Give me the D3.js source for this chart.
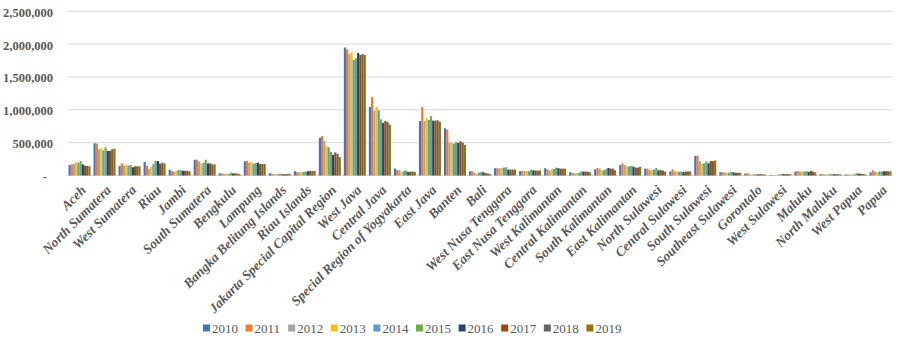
<!DOCTYPE html>
<html><head><meta charset="utf-8">
<script src="https://cdn.jsdelivr.net/npm/d3@7"></script>
<style>
html,body{margin:0;padding:0;background:#fff;}
svg{display:block;}
</style></head>
<body>
<svg id="chart" width="908" height="340"></svg>
<script>
const provinces = ["Aceh","North Sumatera","West Sumatera","Riau","Jambi","South Sumatera","Bengkulu","Lampung","Bangka Belitung Islands","Riau Islands","Jakarta Special Capital Region","West Java","Central Java","Special Region of Yogyakarta","East Java","Banten","Bali","West Nusa Tenggara","East Nusa Tenggara","West Kalimantan","Central Kalimantan","South Kalimantan","East Kalimantan","North Sulawesi","Central Sulawesi","South Sulawesi","Southeast Sulawesi","Gorontalo","West Sulawesi","Maluku","North Maluku","West Papua","Papua"];
const years = ["2010","2011","2012","2013","2014","2015","2016","2017","2018","2019"];
const v2010 = [160000,490000,145000,205000,85000,240000,35000,215000,35000,65000,575000,1950000,1045000,105000,830000,720000,65000,110000,68000,110000,50000,95000,160000,105000,60000,300000,52000,30000,8000,60000,20000,15000,48000];
const v2011 = [170000,485000,185000,150000,72000,240000,28000,225000,25000,50000,600000,1920000,1195000,82000,1045000,700000,65000,110000,68000,95000,40000,115000,185000,105000,95000,300000,52000,35000,8000,68000,20000,15000,80000];
const v2012 = [180000,395000,150000,100000,55000,215000,30000,195000,20000,50000,525000,1850000,985000,82000,830000,505000,45000,110000,68000,80000,35000,105000,160000,85000,65000,220000,42000,18000,10000,60000,18000,15000,60000];
const v2013 = [205000,415000,160000,135000,72000,180000,28000,205000,20000,50000,445000,1875000,1045000,52000,880000,495000,32000,115000,70000,95000,35000,80000,140000,80000,60000,180000,42000,15000,12000,65000,18000,15000,50000];
const v2014 = [195000,385000,150000,175000,85000,195000,22000,180000,25000,55000,430000,1760000,990000,68000,845000,485000,45000,120000,68000,100000,40000,80000,140000,90000,55000,185000,47000,18000,15000,60000,20000,18000,62000];
const v2015 = [220000,430000,160000,220000,78000,240000,45000,190000,28000,60000,360000,1785000,855000,78000,905000,510000,50000,125000,90000,120000,60000,100000,148000,115000,62000,215000,56000,20000,25000,70000,22000,35000,60000];
const v2016 = [170000,375000,125000,220000,72000,185000,32000,195000,18000,65000,315000,1865000,800000,55000,835000,495000,50000,90000,78000,110000,60000,115000,135000,78000,52000,185000,47000,18000,22000,55000,20000,30000,65000];
const v2017 = [150000,375000,140000,180000,72000,185000,32000,175000,22000,70000,350000,1835000,830000,58000,835000,520000,38000,90000,78000,105000,60000,105000,120000,85000,60000,220000,42000,20000,20000,70000,20000,25000,65000];
const v2018 = [145000,400000,140000,195000,72000,170000,30000,175000,25000,70000,330000,1850000,815000,60000,840000,500000,32000,90000,72000,105000,58000,105000,120000,75000,62000,220000,42000,18000,22000,60000,18000,22000,65000];
const v2019 = [140000,410000,140000,185000,65000,170000,22000,175000,25000,70000,280000,1835000,775000,55000,820000,465000,22000,90000,78000,105000,48000,80000,130000,60000,62000,230000,42000,15000,20000,50000,18000,18000,65000];
const yTicks = [0,500000,1000000,1500000,2000000,2500000];
const colors = ["#4472C4","#ED7D31","#A5A5A5","#FFC000","#5B9BD5","#70AD47","#264478","#9E480E","#636363","#997300"];

const seriesValues = [v2010,v2011,v2012,v2013,v2014,v2015,v2016,v2017,v2018,v2019];
const series = years.map((yr,i)=>({year:yr, color:colors[i], values:seriesValues[i]}));

const svg = d3.select("#chart");
svg.append("rect").attr("width",908).attr("height",340).attr("fill","#fff");

const plotLeft = 67, plotRight = 893, plotTop = 11.3, plotBottom = 175.5;
const x0 = d3.scaleBand().domain(provinces).range([plotLeft,plotRight]).paddingInner(0.12).paddingOuter(0.06);
const x1 = d3.scaleBand().domain(years).range([0,x0.bandwidth()]).padding(0);
const y = d3.scaleLinear().domain([0,2500000]).range([plotBottom,plotTop]);

const FONT = '"Liberation Serif", "Times New Roman", serif';
const textColor = "#595959";

// gridlines
svg.append("g").selectAll("line").data(yTicks).join("line")
  .attr("x1",plotLeft).attr("x2",plotRight)
  .attr("y1",d=>y(d)).attr("y2",d=>y(d))
  .attr("stroke","#d9d9d9").attr("stroke-width",1);

// y axis labels
const yAxis = d3.axisLeft(y).tickValues(yTicks).tickSize(0).tickPadding(0)
  .tickFormat(d=> d===0 ? "-" : d3.format(",")(d));
const yg = svg.append("g").attr("transform",`translate(53,0)`).call(yAxis);
yg.select(".domain").remove();
yg.selectAll("text").style("font-family",FONT).style("font-size","12.5px").style("font-weight","bold")
  .attr("fill",textColor).attr("dy","0.4em");
yg.selectAll("text").filter(d=>d===0).attr("dx",-6);

// bars
const groups = svg.append("g").selectAll("g").data(series).join("g").attr("fill",d=>d.color);
groups.selectAll("rect").data(s=>s.values.map((v,i)=>({prov:provinces[i], year:s.year, v})))
  .join("rect")
  .attr("x",d=>x0(d.prov)+x1(d.year))
  .attr("width",x1.bandwidth())
  .attr("y",d=>y(d.v))
  .attr("height",d=>y(0)-y(d.v));

// x axis labels
const xAxis = d3.axisBottom(x0).tickSize(0).tickPadding(0);
const xg = svg.append("g").attr("transform",`translate(0,${plotBottom})`).call(xAxis);
xg.select(".domain").remove();
xg.selectAll("text")
  .style("font-family",FONT).style("font-size","13.5px").style("font-weight","bold").style("font-style","italic")
  .attr("fill",textColor)
  .attr("text-anchor","end")
  .attr("x",0).attr("y",0).attr("dy","0.35em")
  .attr("transform","translate(4,12) rotate(-45)");

// legend
const legend = svg.append("g").attr("transform","translate(203,328)");
const li = legend.selectAll("g").data(series).join("g")
  .attr("transform",(d,i)=>`translate(${i*42.6},0)`);
li.append("rect").attr("x",0).attr("y",-3.5).attr("width",7).attr("height",7).attr("fill",d=>d.color);
li.append("text").attr("x",9).attr("y",0).attr("dy","0.35em")
  .style("font-family",FONT).style("font-size","13px").attr("fill",textColor)
  .text(d=>d.year);
</script>
</body></html>
